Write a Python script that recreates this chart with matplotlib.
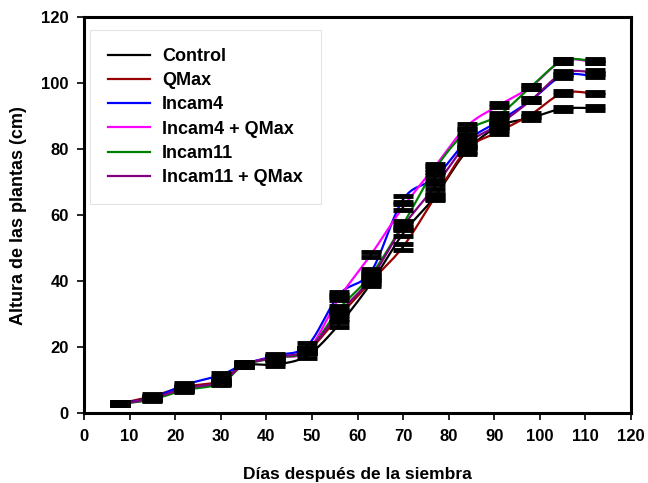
import numpy as np
import matplotlib.pyplot as plt

# data
dias = [8, 15, 22, 30, 35, 42, 49, 56, 63, 70, 77, 84, 91, 98, 105, 112]
control = [2.9, 4.6, 7.4, 9.6, 14.5, 14.8, 17.5, 27.0, 39.5, 54.5, 65.7, 79.5, 87.0, 89.5, 92.3, 92.5]
qmax = [3.0, 5.2, 8.0, 9.8, 14.8, 17.0, 19.0, 29.5, 40.0, 50.5, 65.5, 80.0, 85.3, 90.5, 97.0, 97.0]
incam4 = [3.0, 4.7, 8.6, 11.6, 14.8, 17.5, 20.5, 36.0, 43.0, 64.8, 71.4, 82.5, 88.5, 94.8, 102.3, 102.3]
incam4_q = [2.8, 4.4, 7.3, 9.4, 14.6, 17.0, 19.0, 35.0, 48.2, 62.5, 74.8, 87.0, 93.3, 98.9, 106.8, 106.5]
incam11 = [2.8, 4.2, 7.0, 9.0, 14.5, 16.8, 19.0, 31.7, 42.0, 57.3, 74.0, 85.5, 90.3, 98.9, 106.8, 106.8]
incam11_q = [2.9, 4.5, 7.5, 9.5, 14.6, 17.0, 19.2, 30.5, 41.0, 56.6, 68.7, 81.5, 87.5, 94.8, 103.0, 103.5]
errores = [0.4, 0.5, 0.5, 0.5, 0.6, 0.5, 0.7, 0.8, 0.8, 0.9, 0.8, 0.8, 0.6, 0.6, 0.6, 0.5]

series = [("Control", control, "black"),
          ("QMax", qmax, "#990000"),
          ("Incam4", incam4, "#0000FF"),
          ("Incam4 + QMax", incam4_q, "#FF00FF"),
          ("Incam11", incam11, "#008000"),
          ("Incam11 + QMax", incam11_q, "#800080")]


def suave(x, y, n=20):
    # catmull-rom, like excel smoothed lines
    x = np.asarray(x, float)
    y = np.asarray(y, float)
    px = np.concatenate([[2 * x[0] - x[1]], x, [2 * x[-1] - x[-2]]])
    py = np.concatenate([[2 * y[0] - y[1]], y, [2 * y[-1] - y[-2]]])
    xs, ys = [], []
    t = np.linspace(0, 1, n, endpoint=False)
    for i in range(1, len(px) - 2):
        for p, out in ((px, xs), (py, ys)):
            p0, p1, p2, p3 = p[i - 1], p[i], p[i + 1], p[i + 2]
            out.extend(0.5 * (2 * p1 + (-p0 + p2) * t + (2 * p0 - 5 * p1 + 4 * p2 - p3) * t ** 2
                              + (-p0 + 3 * p1 - 3 * p2 + p3) * t ** 3))
    xs.append(x[-1])
    ys.append(y[-1])
    return xs, ys


plt.rcParams['font.family'] = ['Liberation Sans', 'DejaVu Sans']
plt.rcParams['font.weight'] = 'bold'

fig = plt.figure(figsize=(6.48, 4.83), dpi=100)
ax = fig.add_axes([0.1296, 0.1443, 0.8442, 0.8199])

for nombre, vals, color in series:
    xs, ys = suave(dias, vals)
    ax.plot(xs, ys, color=color, lw=1.6, label=nombre, zorder=2)
for nombre, vals, color in series:
    ax.errorbar(dias, vals, yerr=errores, fmt='none', ecolor='black',
                elinewidth=1.5, capsize=7, capthick=3.5, zorder=3)

ax.set_xlim(0, 120)
ax.set_ylim(0, 120)
ax.set_xticks(np.arange(0, 121, 10))
ax.set_yticks(np.arange(0, 121, 20))
ax.tick_params(direction='out', length=5, width=1.2, labelsize=12, pad=6)
for lab in ax.get_xticklabels() + ax.get_yticklabels():
    lab.set_fontweight('bold')
for s in ax.spines.values():
    s.set_linewidth(2.2)

ax.set_xlabel("Días después de la siembra", fontsize=12.5, fontweight='bold', labelpad=17)
ax.set_ylabel("Altura de las plantas (cm)", fontsize=13, fontweight='bold', labelpad=10)

leg = ax.legend(loc='upper left', bbox_to_anchor=(0.011, 0.968), borderaxespad=0,
                handlelength=2.3, handletextpad=0.7, labelspacing=0.4, borderpad=1.0,
                fancybox=False, prop={'weight': 'bold', 'size': 13})
leg.get_frame().set_edgecolor('#dddddd')
leg.get_frame().set_linewidth(0.8)

fig.savefig("out.png", dpi=100)
